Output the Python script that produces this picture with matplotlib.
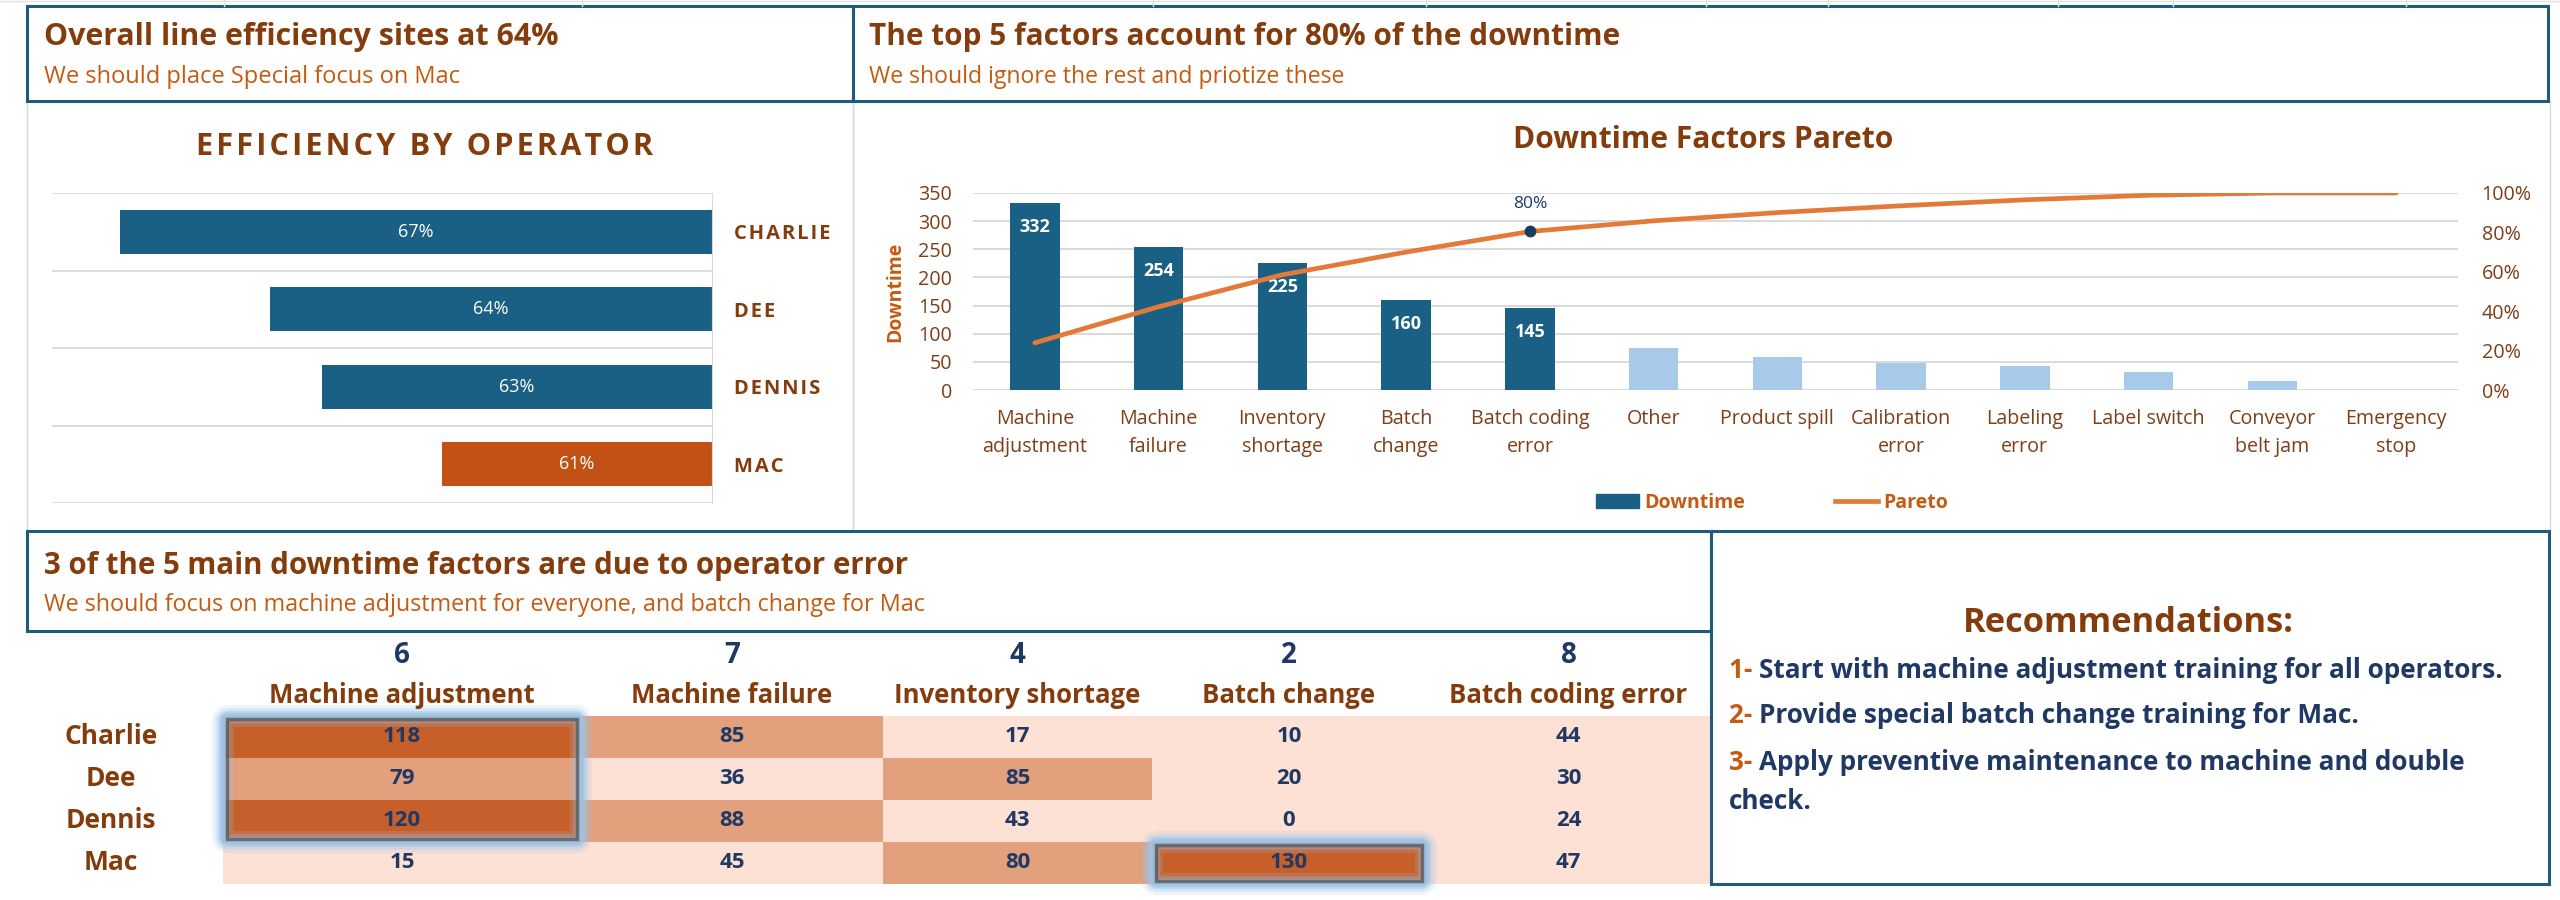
"""
Line efficiency dashboard - operator efficiency, downtime pareto, heatmap
"""

import matplotlib.pyplot as plt
import matplotlib.patches as patches
from matplotlib.lines import Line2D
from matplotlib.colors import ListedColormap, BoundaryNorm
from matplotlib.ticker import PercentFormatter
import numpy as np

plt.rcParams['font.family'] = ['Open Sans', 'DejaVu Sans']

# ---- data ----
operators = ['Charlie', 'Dee', 'Dennis', 'Mac']
efficiency = [0.672, 0.643, 0.633, 0.610]

factors = ['Machine\nadjustment', 'Machine\nfailure', 'Inventory\nshortage', 'Batch\nchange',
           'Batch coding\nerror', 'Other', 'Product spill', 'Calibration\nerror', 'Labeling\nerror',
           'Label switch', 'Conveyor\nbelt jam', 'Emergency\nstop']
downtime = [332, 254, 225, 160, 145, 75, 58, 48, 42, 32, 16, 0]
top_n = 5

heat_cols = ['Machine adjustment', 'Machine failure', 'Inventory shortage', 'Batch change', 'Batch coding error']
col_counts = [6, 7, 4, 2, 8]
heat_vals = [[118, 85, 17, 10, 44],
             [79, 36, 85, 20, 30],
             [120, 88, 43, 0, 24],
             [15, 45, 80, 130, 47]]

rec_lines = ['Start with machine adjustment training for all operators.',
             'Provide special batch change training for Mac.',
             'Apply preventive maintenance to machine and double',
             'check.']

# ---- colours ----
BROWN = '#843C0C'
ORANGE = '#C55A11'
NAVY = '#1F3864'
BORDER = '#1F5C7A'
DARK_BLUE = '#1A6084'
LIGHT_BLUE = '#A7CAEB'
MAC_ORANGE = '#C25115'
LINE_ORANGE = '#E47A3A'
TICK = '#7E3F18'
GRID = '#D9D9D9'

W, H = 2560, 900
fig = plt.figure(figsize=(W / 100, H / 100), dpi=100)
fig.patch.set_facecolor('white')
renderer = fig.canvas.get_renderer()


def fx(px):
    return px / W


def fy(py):
    return 1 - py / H


def rect(x0, y0, x1, y1, ec, lw):
    fig.add_artist(patches.Rectangle((fx(x0), fy(y1)), (x1 - x0) / W, (y1 - y0) / H,
                                     transform=fig.transFigure, fill=False, ec=ec, lw=lw))


def add_ax(x0, y0, x1, y1):
    return fig.add_axes([fx(x0), fy(y1), (x1 - x0) / W, (y1 - y0) / H])


def spaced(s):
    return '\u200a'.join(s)


def ftext(x, y, s, width, vertical=False, **kw):
    # place text and scale its size so it spans `width` pixels like the reference
    t = fig.text(fx(x), fy(y), s, fontsize=20, **kw)
    bb = t.get_window_extent(renderer)
    cur = bb.height if vertical else bb.width
    t.set_fontsize(20 * width / cur)
    return t


# faint spreadsheet grid at the very top
for xg in [224, 582, 1153, 1426, 1706, 1828, 2058, 2173, 2406]:
    fig.add_artist(Line2D([fx(xg), fx(xg)], [fy(0), fy(6)], color='#E3E3E3', lw=1))
fig.add_artist(Line2D([0, 1], [fy(1), fy(1)], color='#E3E3E3', lw=1))

# panels
rect(27, 101, 853, 531, GRID, 1)
rect(853, 101, 2550, 531, GRID, 1)

# header boxes
rect(27, 6, 853, 101, BORDER, 2.2)
rect(853, 6, 2548, 101, BORDER, 2.2)
rect(27, 531, 1711, 631, BORDER, 2.2)
rect(1711, 531, 2549, 884, BORDER, 2.2)

ftext(44, 45, 'Overall line efficiency sites at 64%', 516, fontweight='bold', color=BROWN, va='baseline')
ftext(44, 83, 'We should place Special focus on Mac', 415, color=ORANGE, va='baseline')
ftext(869, 45, 'The top 5 factors account for 80% of the downtime', 749, fontweight='bold', color=BROWN,
      va='baseline')
ftext(869, 83, 'We should ignore the rest and priotize these', 474, color=ORANGE, va='baseline')
ftext(44, 574, '3 of the 5 main downtime factors are due to operator error', 866, fontweight='bold',
      color=BROWN, va='baseline')
ftext(44, 611, 'We should focus on machine adjustment for everyone, and batch change for Mac', 880,
      color=ORANGE, va='baseline')

# ---- efficiency by operator ----
ftext(425, 155, spaced('EFFICIENCY BY OPERATOR'), 455, fontweight='bold', color=BROWN, ha='center',
      va='baseline')

ax1 = add_ax(52, 193, 712, 503)
base = 0.558
ypos = np.arange(len(operators))
bar_cols = [DARK_BLUE] * (len(operators) - 1) + [MAC_ORANGE]
ax1.barh(ypos, np.array(efficiency) - base, left=base, height=0.57, color=bar_cols)
ax1.set_xlim(base, 0.685)
ax1.invert_xaxis()
ax1.set_ylim(len(operators) - 0.5, -0.5)
ax1.set_yticks(np.arange(-0.5, len(operators), 1), minor=True)
ax1.grid(which='minor', axis='y', color=GRID, lw=1.3)
ax1.yaxis.tick_right()
ax1.set_yticks(ypos, [spaced(o.upper()) for o in operators])
ax1.tick_params(axis='y', which='both', length=0, pad=16, labelsize=14.5, labelcolor=BROWN)
for lbl in ax1.get_yticklabels():
    lbl.set_fontweight('bold')
ax1.set_xticks([])
for s in ['top', 'left', 'bottom']:
    ax1.spines[s].set_visible(False)
ax1.spines['right'].set_color(GRID)
for i, v in enumerate(efficiency):
    ax1.text((v + base) / 2, i, f'{v:.0%}', color='white', fontsize=13, ha='center', va='center')

# ---- downtime pareto ----
ftext(1703, 148, 'Downtime Factors Pareto', 380, fontweight='bold', color=BROWN, ha='center', va='baseline')

ax2 = add_ax(973, 193, 2458, 390)
xpos = np.arange(len(factors))
pcols = [DARK_BLUE if i < top_n else LIGHT_BLUE for i in xpos]
ax2.bar(xpos, downtime, width=0.4, color=pcols, zorder=2)
ax2.set_xlim(-0.5, len(factors) - 0.5)
ax2.set_ylim(0, 350)
ax2.set_yticks(np.arange(0, 351, 50))
ax2.grid(axis='y', color=GRID, lw=1.4, zorder=0)
ax2.set_axisbelow(True)
for s in ax2.spines.values():
    s.set_visible(False)
ax2.set_xticks(xpos, factors, linespacing=1.5)
ax2.tick_params(axis='x', length=0, pad=14, labelsize=14.2, labelcolor=TICK)
ax2.tick_params(axis='y', length=0, pad=15, labelsize=14.2, labelcolor=TICK)
for i in range(top_n):
    ax2.annotate(str(downtime[i]), (i, downtime[i]), xytext=(0, -17), textcoords='offset points',
                 ha='center', va='center', color='white', fontsize=13, fontweight='bold', zorder=4)

cum = np.cumsum(downtime) / np.sum(downtime)
ax3 = ax2.twinx()
ax3.plot(xpos, cum, color=LINE_ORANGE, lw=3.4, solid_joinstyle='round', solid_capstyle='round', zorder=3)
ax3.plot(top_n - 1, cum[top_n - 1], 'o', color=NAVY, ms=7.5, zorder=4)
ax3.annotate(f'{cum[top_n - 1]:.0%}', (top_n - 1, cum[top_n - 1]), xytext=(0, 20),
             textcoords='offset points', ha='center', va='center', color=NAVY, fontsize=12.5)
ax3.set_ylim(0, 1)
ax3.set_yticks(np.arange(0, 1.01, 0.2))
ax3.yaxis.set_major_formatter(PercentFormatter(1, decimals=0))
ax3.tick_params(axis='y', length=0, pad=17, labelsize=14.2, labelcolor=TICK)
for s in ax3.spines.values():
    s.set_visible(False)

ftext(895, 292, 'Downtime', 100, vertical=True, rotation=90, fontweight='bold', color=ORANGE,
      ha='center', va='center')

handles = [patches.Patch(color=DARK_BLUE), Line2D([], [], color=LINE_ORANGE, lw=3.4)]
fig.legend(handles, ['Downtime', 'Pareto'], loc='center', bbox_to_anchor=(fx(1772), fy(503)), ncol=2,
           frameon=False, prop={'weight': 'bold', 'size': 14}, labelcolor=ORANGE, handlelength=2.2,
           handletextpad=0.3, columnspacing=4.6)

# ---- heatmap ----
col_w = [358, 302, 269, 274, 285]
ax4 = add_ax(223, 716, 1711, 884)
xe = np.concatenate([[0], np.cumsum(col_w)])
ye = np.arange(len(operators) + 1)
cmap = ListedColormap(['#FCE1D4', '#E2A07D', '#C65F29'])
norm = BoundaryNorm([0, 60, 110, 200], cmap.N)
ax4.pcolormesh(xe, ye, np.array(heat_vals), cmap=cmap, norm=norm)
ax4.set_xlim(0, xe[-1])
ax4.set_ylim(len(operators), 0)
ax4.axis('off')
xc = (xe[:-1] + xe[1:]) / 2
for j, name in enumerate(heat_cols):
    ax4.text(xc[j], -1.26, str(col_counts[j]), ha='center', va='baseline', fontsize=20, fontweight='bold',
             color=NAVY, clip_on=False)
    ax4.text(xc[j], -0.31, name, ha='center', va='baseline', fontsize=18.5, fontweight='bold',
             color=BROWN, clip_on=False)
for i, op in enumerate(operators):
    ax4.text(-112, i + 0.5, op, ha='center', va='center', fontsize=19, fontweight='bold', color=BROWN,
             clip_on=False)
    for j in range(len(heat_cols)):
        ax4.text(xc[j], i + 0.5, str(heat_vals[i][j]), ha='center', va='center', fontsize=16,
                 fontweight='bold', color=NAVY)


def glow(x0, y0, x1, y1):
    for lw, a in [(16, 0.18), (11, 0.3), (7, 0.5), (4, 0.8)]:
        ax4.add_patch(patches.FancyBboxPatch((x0, y0), x1 - x0, y1 - y0,
                                             boxstyle='round,pad=0,rounding_size=6',
                                             fill=False, ec='#9DC3E6', lw=lw, alpha=a, clip_on=False,
                                             mutation_aspect=1 / 42))
    ax4.add_patch(patches.Rectangle((x0 + 4, y0 + 0.08), x1 - x0 - 8, y1 - y0 - 0.16, fill=False,
                                    ec='#3F3F3F', lw=2.5, alpha=0.6, clip_on=False))


glow(xe[0], 0, xe[1], 3)
glow(xe[3], 3, xe[4], 4)

# ---- recommendations ----
ftext(2128, 632, 'Recommendations:', 331, fontweight='bold', color=BROWN, ha='center', va='baseline')
probe = ftext(1729, 678, '1- ' + rec_lines[0], 772, fontweight='bold', color=NAVY, va='baseline')
rec_size = probe.get_fontsize()
probe.remove()
rec_y = [678, 723, 770, 809]
for k, line in enumerate(rec_lines):
    xstart = 1729
    if k < 3:
        num = fig.text(fx(1729), fy(rec_y[k]), f'{k + 1}- ', fontsize=rec_size, fontweight='bold',
                       color=ORANGE, va='baseline')
        xstart = 1729 + num.get_window_extent(renderer).width
    fig.text(fx(xstart), fy(rec_y[k]), line, fontsize=rec_size, fontweight='bold', color=NAVY,
             va='baseline')

plt.savefig('out.png', dpi=100)
